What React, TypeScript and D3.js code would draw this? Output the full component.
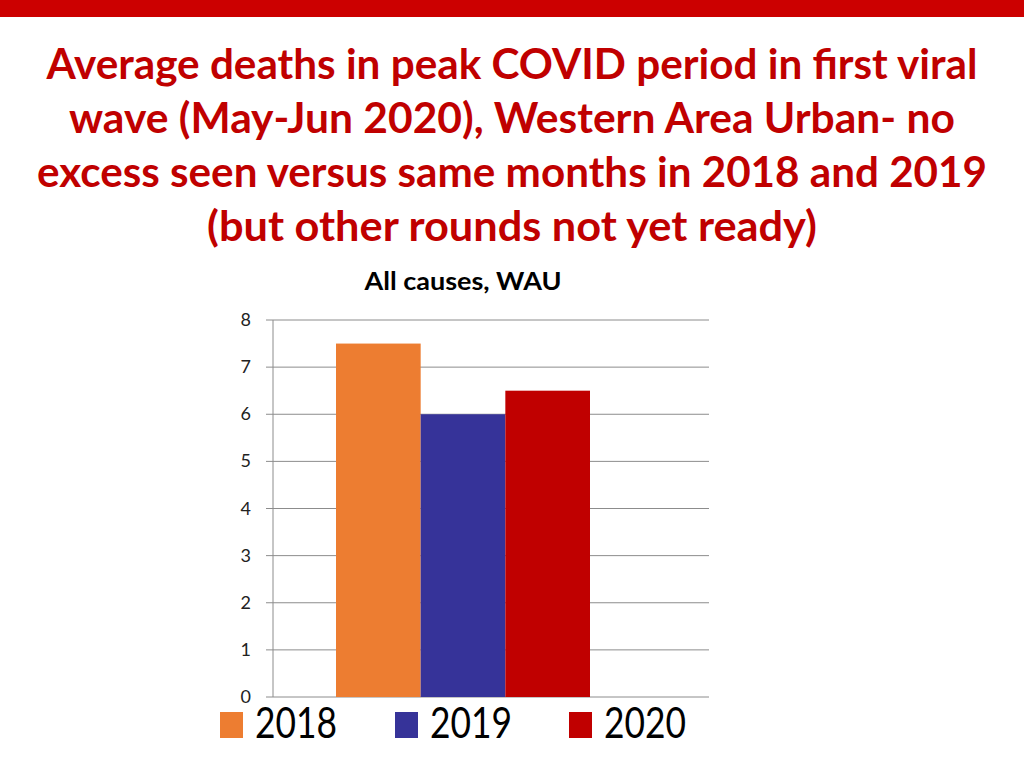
import React from "react";
import * as d3 from "d3";

const titleLines = [
  "Average deaths in peak COVID period in first viral",
  "wave (May-Jun 2020), Western Area Urban- no",
  "excess seen versus same months in 2018 and 2019",
  "(but other rounds not yet ready)",
];
const chartTitle = "All causes, WAU";
const series = ["2018", "2019", "2020"];
const values = [7.5, 6.0, 6.5];
const colors = ["#ED7D31", "#363399", "#C00000"];
const yTicks = [0, 1, 2, 3, 4, 5, 6, 7, 8];

export default function App() {
  const W = 1024, H = 768;
  const plotLeft = 273, plotRight = 709, plotTop = 320, plotBottom = 697;
  const y = d3.scaleLinear().domain([0, 8]).range([plotBottom, plotTop]);
  const x = d3.scaleBand().domain(series).range([336, 590]).padding(0);
  const legendX = [220, 395, 569];
  const titleBaselines = [79, 133, 187, 241];
  const titleWidths = [931, 886, 950, 610];
  return (
    <svg width={W} height={H} style={{ position: "absolute", left: 0, top: 0, background: "#fff" }}>
      <rect x={0} y={0} width={W} height={17} fill="#CC0000" />
      {titleLines.map((t, i) => (
        <text key={i} x={512} y={titleBaselines[i]} textAnchor="middle" fontFamily="Lato" fontWeight={700}
          fontSize={42} fill="#C00000" textLength={titleWidths[i]} lengthAdjust="spacingAndGlyphs">{t}</text>
      ))}
      <text x={463} y={290} textAnchor="middle" fontFamily="Lato" fontWeight={700} fontSize={24} fill="#000"
        textLength={197} lengthAdjust="spacingAndGlyphs">{chartTitle}</text>
      {yTicks.map((t) => (
        <g key={t}>
          <line x1={266} x2={plotRight} y1={y(t)} y2={y(t)} stroke="#8c8c8c" strokeWidth={1} />
          <text x={251} y={y(t) + 6} textAnchor="end" fontFamily="Lato" fontSize={18} fill="#222">{t}</text>
        </g>
      ))}
      <line x1={plotLeft} x2={plotLeft} y1={plotTop} y2={plotBottom} stroke="#8c8c8c" strokeWidth={1} />
      {series.map((s, i) => (
        <rect key={s} x={x(s)} y={y(values[i])} width={x.bandwidth()} height={y(0) - y(values[i])} fill={colors[i]} />
      ))}
      {series.map((s, i) => (
        <g key={s}>
          <rect x={legendX[i]} y={712} width={23} height={26} fill={colors[i]} />
          <text x={legendX[i] + 35} y={738} fontFamily="Lato" fontSize={42} fill="#000"
            textLength={82} lengthAdjust="spacingAndGlyphs">{s}</text>
        </g>
      ))}
    </svg>
  );
}
